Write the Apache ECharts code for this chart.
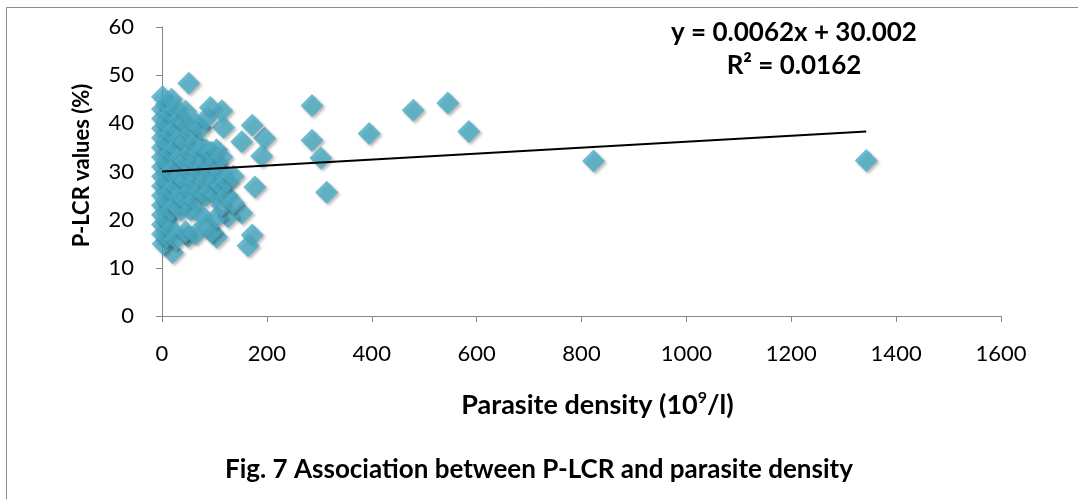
<!DOCTYPE html>
<html><head><meta charset="utf-8">
<script src="https://cdn.jsdelivr.net/npm/echarts@6/dist/echarts.min.js"></script>
<style>html,body{margin:0;padding:0;background:#fff}#c{width:1078px;height:499px}</style>
</head><body><div id="c"></div>
<script>
// Parasite density (10^9/l)
const densityX = [
 1343,823,585,545,479,395,286,286,303,314,196,190,172,177,172,164,152,152,126,51,92,114,117,104,50,20,2,
 1,1,1,1,1,1,1,1,1,1,1,1,1,1,1,
 9,9,9,9,9,9,9,9,
 18,18,18,18,18,18,18,18,
 27,27,27,27,27,27,27,
 36,36,36,36,36,36,
 45,45,45,45,45,45,45,
 55,55,55,55,55,
 64,64,64,64,64,64,
 74,74,74,74,74,
 84,84,84,84,84,84,
 94,94,94,94,
 104,104,104,104,104,
 114,114,114,114,
 124,124,
 136,136
];
// P-LCR values (%)
const plcrY = [
 32.3,32.2,38.3,44.2,42.7,37.9,43.7,36.5,32.8,25.7,36.9,33.2,39.6,26.8,16.8,14.6,36.2,21.4,20.6,48.3,43.3,42.6,39.2,16.4,16.5,13.2,15.0,
 17,19,21,23,25,27,29,31,33,35,37,39,41,43,45.5,
 16.5,20,24,28,32,36,40,44,
 18,22,26,30,34,38,42,45,
 16,23,27,31,35,39,43,
 22,25,29,33,37,41,
 17.5,24,28,32,36,40,42.5,
 22,26,30,34,38,
 17,24,28,32,36,40,
 21,26,30,34,39,
 19,25,28,32,34.5,41,
 17.5,26,30,34,
 20.5,25,28,32,34.5,
 23,27,30,33,
 25,28,
 23.5,29
];
// Linear trendline endpoints (y = 0.0062x + 30.002)
const trendX = [0, 1343];
const trendY = [30.0, 38.33];
const xTicks = [0,200,400,600,800,1000,1200,1400,1600];
const yTicks = [0,10,20,30,40,50,60];

const pts = densityX.map((x,i)=>[x, plcrY[i]]);
const trend = trendX.map((x,i)=>[x, trendY[i]]);
const FONT = 'Lato, "Open Sans", sans-serif';

const chart = echarts.init(document.getElementById('c'), null, {renderer:'canvas'});
chart.setOption({
  backgroundColor:'#fff',
  animation:false,
  grid:{left:162, right:77, top:27, bottom:183, containLabel:false},
  xAxis:{
    type:'value', min:xTicks[0], max:xTicks[xTicks.length-1], interval:200,
    splitLine:{show:false},
    axisLine:{lineStyle:{color:'#868686', width:1}},
    axisTick:{show:true, length:6, lineStyle:{color:'#868686'}},
    axisLabel:{color:'#000', fontSize:22, fontFamily:FONT, margin:27, formatter:v=>String(v)},
    name:'{n|Parasite density (10}{s|9}{n|/l)}', nameLocation:'middle', nameGap:74,
    nameTextStyle:{padding:[0,0,0,32], rich:{
      n:{color:'#000', fontSize:27, fontWeight:'bold', fontFamily:FONT, lineHeight:30},
      s:{color:'#000', fontSize:16, fontWeight:'bold', fontFamily:FONT, verticalAlign:'top', lineHeight:30, padding:[0,0,10,0]}
    }}
  },
  yAxis:{
    type:'value', min:yTicks[0], max:yTicks[yTicks.length-1], interval:10,
    splitLine:{show:false},
    axisLine:{show:true, lineStyle:{color:'#868686', width:1}},
    axisTick:{show:true, length:6, lineStyle:{color:'#868686'}},
    axisLabel:{color:'#000', fontSize:22, fontFamily:FONT, margin:28, formatter:v=>String(v)},
    name:'{t|P-LCR values (%)}', nameLocation:'middle', nameGap:69, nameRotate:90,
    nameTextStyle:{padding:[0,0,0,12], rich:{t:{color:'#000', fontSize:22, fontWeight:'bold', fontFamily:FONT}}}
  },
  series:[
    {type:'scatter', data:pts, symbol:'diamond', symbolSize:[23,23],
     itemStyle:{color:'#4BACC6', shadowBlur:3, shadowColor:'rgba(0,0,0,0.35)', shadowOffsetX:2, shadowOffsetY:2}},
    {type:'line', data:trend, symbol:'none', lineStyle:{color:'#000', width:2}, z:5}
  ],
  graphic:[
    {type:'rect', shape:{x:6.5, y:7.5, width:1200, height:600}, style:{fill:null, stroke:'#8c8c8c', lineWidth:1}, silent:true},
    {type:'text', x:794, y:33, style:{text:'y = 0.0062x + 30.002', fill:'#000', font:'bold 26px '+FONT, textAlign:'center', textVerticalAlign:'middle'}},
    {type:'text', x:794, y:66, style:{text:'R² = 0.0162', fill:'#000', font:'bold 26px '+FONT, textAlign:'center', textVerticalAlign:'middle'}},
    {type:'text', x:539, y:470, style:{text:'Fig. 7 Association between P-LCR and parasite density', fill:'#000', font:'bold 26px '+FONT, textAlign:'center', textVerticalAlign:'middle'}}
  ]
});
</script></body></html>
